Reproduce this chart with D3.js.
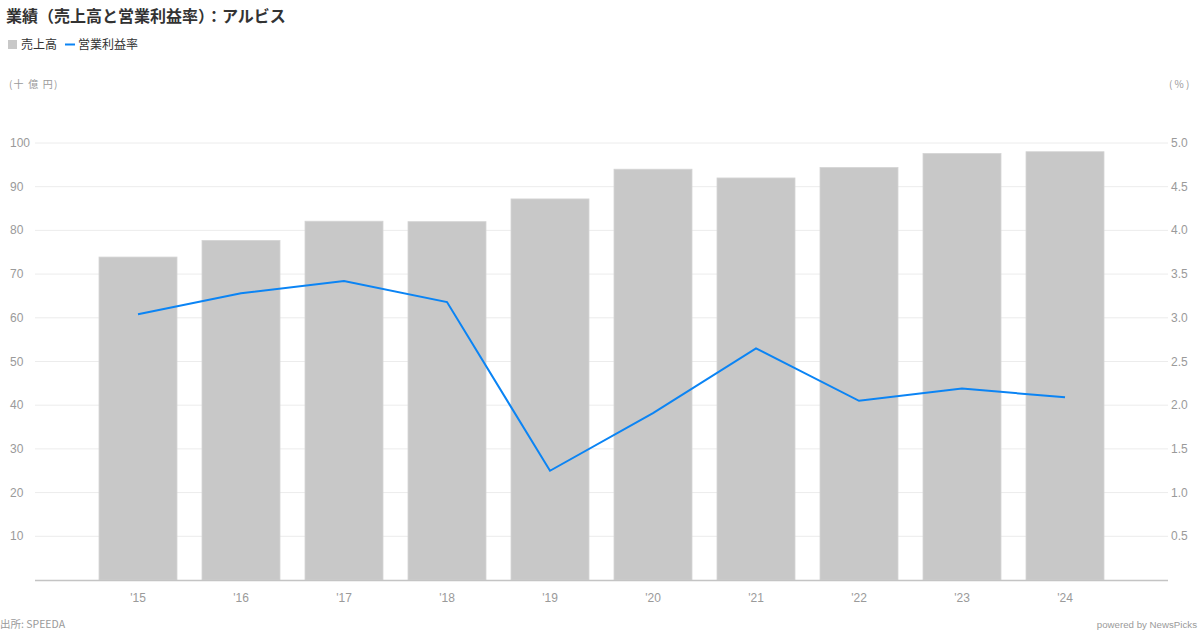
<!DOCTYPE html>
<html><head><meta charset="utf-8">
<script src="https://cdn.jsdelivr.net/npm/d3@7/dist/d3.min.js"></script>
<style>body{margin:0;background:#fff;}svg{display:block;font-family:"Noto Sans CJK JP","Liberation Sans",sans-serif;}</style>
</head><body><svg id="c" width="1200" height="630"></svg>
<script>
const categories = ["'15","'16","'17","'18","'19","'20","'21","'22","'23","'24"];
const sales = [73.9, 77.7, 82.1, 82.0, 87.2, 94.0, 92.0, 94.4, 97.6, 98.0];
const margin = [3.04, 3.28, 3.42, 3.18, 1.25, 1.91, 2.65, 2.05, 2.19, 2.09];
const leftTicks = [10,20,30,40,50,60,70,80,90,100];
const rightTicks = [0.5,1.0,1.5,2.0,2.5,3.0,3.5,4.0,4.5,5.0];

const svg = d3.select("#c");
const L = 35, R = 1168, T = 143, B = 580;
const x = d3.scalePoint().domain(categories).range([L, R]).padding(1);
const yL = d3.scaleLinear().domain([0, 100]).range([B, T]);
const yR = d3.scaleLinear().domain([0, 5]).range([B, T]);
const barW = 78;

// grid
svg.append("g").selectAll("line").data(leftTicks).join("line")
  .attr("x1", L).attr("x2", R).attr("y1", d => yL(d)).attr("y2", d => yL(d))
  .attr("stroke", "#ececec").attr("stroke-width", 1);

// bars
svg.append("g").selectAll("rect").data(sales).join("rect")
  .attr("x", (d,i) => x(categories[i]) - barW/2).attr("width", barW)
  .attr("y", d => yL(d)).attr("height", d => B - yL(d))
  .attr("fill", "#c8c8c8").attr("stroke", "#d4d4d4").attr("stroke-width", 0.8);

// baseline
svg.append("line").attr("x1", L).attr("x2", R).attr("y1", B + 0.5).attr("y2", B + 0.5)
  .attr("stroke", "#c4c4c4").attr("stroke-width", 1.3);

// line
const line = d3.line().x((d,i) => x(categories[i])).y(d => yR(d));
svg.append("path").datum(margin).attr("d", line)
  .attr("fill", "none").attr("stroke", "#0b84f4").attr("stroke-width", 2).attr("stroke-linejoin", "miter");

const gray = "#9a9a9a";
// left ticks
svg.append("g").selectAll("text").data(leftTicks).join("text")
  .attr("x", 10).attr("y", d => yL(d) + 4).text(d => d)
  .attr("font-size", 12).attr("fill", gray).attr("font-family", "Liberation Sans, Arial, sans-serif");
// right ticks
svg.append("g").selectAll("text").data(rightTicks).join("text")
  .attr("x", 1171).attr("y", d => yR(d) + 4).text(d => d.toFixed(1))
  .attr("font-size", 12).attr("fill", gray).attr("font-family", "Liberation Sans, Arial, sans-serif");
// x labels
svg.append("g").selectAll("text").data(categories).join("text")
  .attr("x", d => x(d)).attr("y", 602).attr("text-anchor", "middle").text(d => d)
  .attr("font-size", 12).attr("fill", gray).attr("font-family", "Liberation Sans, Arial, sans-serif");

// units
svg.append("text").attr("x", 9).attr("y", 88).text("(十 億 円)").attr("font-size", 10).attr("fill", gray).attr("letter-spacing", 1.2);
svg.append("text").attr("x", 1169).attr("y", 88).text("( % )").attr("font-size", 10).attr("fill", gray);

// title
svg.append("text").attr("x", 6).attr("y", 22).text("業績（売上高と営業利益率）：アルビス")
  .attr("font-size", 16).attr("font-weight", "bold").attr("fill", "#333");

// legend
svg.append("rect").attr("x", 8).attr("y", 40).attr("width", 9).attr("height", 9).attr("fill", "#c8c8c8");
svg.append("text").attr("x", 21).attr("y", 49).text("売上高").attr("font-size", 12).attr("fill", "#333");
svg.append("line").attr("x1", 65).attr("x2", 75).attr("y1", 44.5).attr("y2", 44.5).attr("stroke", "#0b84f4").attr("stroke-width", 2);
svg.append("text").attr("x", 78).attr("y", 49).text("営業利益率").attr("font-size", 12).attr("fill", "#333");

// footer
svg.append("text").attr("x", 0).attr("y", 628).text("出所: SPEEDA").attr("font-size", 10.5).attr("fill", gray);
svg.append("text").attr("x", 1197).attr("y", 628).attr("text-anchor", "end").text("powered by NewsPicks")
  .attr("font-size", 9.7).attr("fill", gray).attr("font-family", "Liberation Sans, Arial, sans-serif");
</script></body></html>
